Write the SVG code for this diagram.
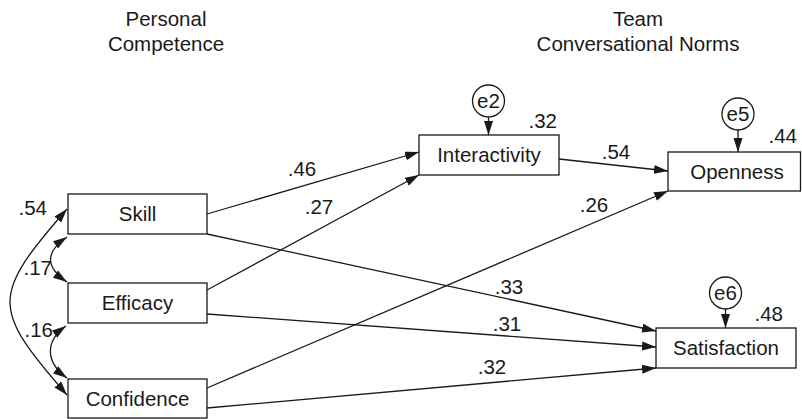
<svg xmlns="http://www.w3.org/2000/svg" width="802" height="419" viewBox="0 0 802 419">
<defs>
<marker id="ah" markerUnits="userSpaceOnUse" markerWidth="15" markerHeight="10" refX="14" refY="4.5" orient="auto-start-reverse" viewBox="0 0 15 10">
<path d="M0,0 L14,4.5 L0,9 Z" fill="#1a1a1a"/>
</marker>
</defs>
<style>
text{font-family:"Liberation Sans",Arial,sans-serif;font-size:20.5px;fill:#1a1a1a}
.box{fill:#fff;stroke:#1a1a1a;stroke-width:1.3}
.c{text-anchor:middle}
.e{text-anchor:end}
.ln{fill:none;stroke:#1a1a1a;stroke-width:1.3;marker-end:url(#ah)}
.dl{fill:none;stroke:#1a1a1a;stroke-width:1.3;marker-end:url(#ah);marker-start:url(#ah)}
</style>
<rect width="802" height="419" fill="#fff"/>
<g id="titles">
<text class="c" x="166" y="26">Personal</text>
<text class="c" x="166" y="51">Competence</text>
<text class="c" x="638" y="26">Team</text>
<text class="c" x="638" y="51">Conversational Norms</text>
</g>
<g id="connectors">
<path class="ln" d="M207,214 L419,152"/>
<path class="ln" d="M207,290 L419,175"/>
<path class="ln" d="M559,159 L668,171"/>
<path class="ln" d="M207,388 L668,191"/>
<path class="ln" d="M207,234 L656,331"/>
<path class="ln" d="M207,314 L656,347"/>
<path class="ln" d="M207,408 L656,368"/>
<path class="ln" d="M488.5,117 L488.5,135"/>
<path class="ln" d="M738,130 L738,152"/>
<path class="ln" d="M725.5,309 L725.5,328"/>
<path class="dl" d="M67,209 C-9,296 -9,308 67,395"/>
<path class="dl" d="M67,237 C45,252 45,267 67,282"/>
<path class="dl" d="M66,326 C45,341 45,362 67,378"/>
<text class="c" x="302" y="176">.46</text>
<text class="c" x="319" y="214">.27</text>
<text class="c" x="616" y="159">.54</text>
<text class="c" x="594" y="212">.26</text>
<text class="c" x="509" y="294">.33</text>
<text class="c" x="507" y="331">.31</text>
<text class="c" x="492" y="374">.32</text>
<text class="e" x="47" y="215">.54</text>
<text class="e" x="52" y="275">.17</text>
<text class="e" x="53" y="337">.16</text>
</g>
<g id="skill">
<rect class="box" x="68" y="194" width="139" height="40"/>
<text class="c" x="137.5" y="221">Skill</text>
</g>
<g id="efficacy">
<rect class="box" x="68" y="283" width="139" height="40"/>
<text class="c" x="137.5" y="310">Efficacy</text>
</g>
<g id="confidence">
<rect class="box" x="68" y="379" width="139" height="39"/>
<text class="c" x="137.5" y="406">Confidence</text>
</g>
<g id="interactivity">
<rect class="box" x="419" y="135" width="140" height="40"/>
<text class="c" x="489" y="162">Interactivity</text>
<text class="e" x="557" y="128">.32</text>
</g>
<g id="openness">
<rect class="box" x="668" y="152" width="132.5" height="39"/>
<text class="c" x="737" y="179">Openness</text>
<text class="e" x="797" y="143">.44</text>
</g>
<g id="satisfaction">
<rect class="box" x="656" y="328" width="140" height="40"/>
<text class="c" x="726" y="355">Satisfaction</text>
<text class="e" x="783" y="321">.48</text>
</g>
<g id="e2">
<circle class="box" cx="488.5" cy="101" r="16"/>
<text class="c" x="488.5" y="108">e2</text>
</g>
<g id="e5">
<circle class="box" cx="738" cy="114" r="16"/>
<text class="c" x="738" y="121">e5</text>
</g>
<g id="e6">
<circle class="box" cx="725.5" cy="293" r="16"/>
<text class="c" x="725.5" y="300">e6</text>
</g>
</svg>
